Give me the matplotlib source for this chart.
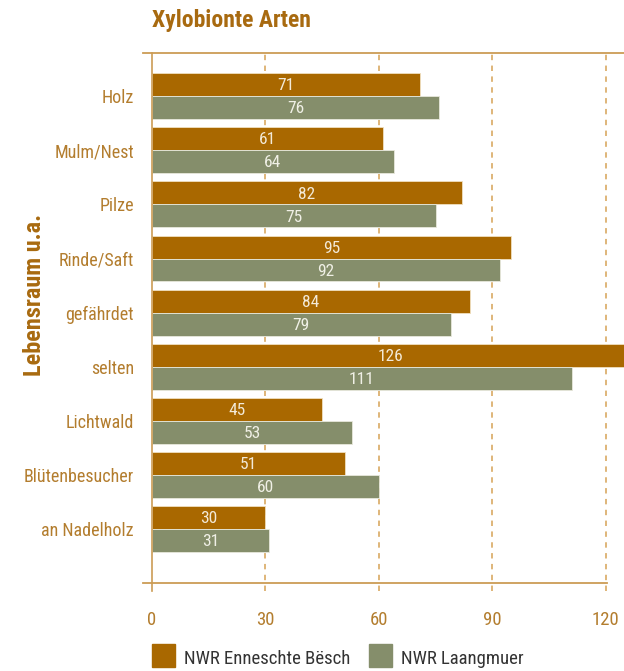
import matplotlib
matplotlib.use("Agg")
import matplotlib.pyplot as plt
import numpy as np

categories = ["Holz", "Mulm/Nest", "Pilze", "Rinde/Saft", "gefährdet", "selten",
              "Lichtwald", "Blütenbesucher", "an Nadelholz"]
enneschte = [71, 61, 82, 95, 84, 126, 45, 51, 30]
laangmuer = [76, 64, 75, 92, 79, 111, 53, 60, 31]
series_names = ["NWR Enneschte Bësch", "NWR Laangmuer"]
xticks = [0, 30, 60, 90, 120]

FONT = ["Roboto Condensed", "DejaVu Sans"]
plt.rcParams["font.family"] = FONT

c_brown = "#a96800"
c_green = "#858e6b"
c_label = "#b37d2e"
c_title = "#a86a10"
c_grid = "#dcb06e"
c_spine = "#cc9c55"

W, H = 624, 671
fig = plt.figure(figsize=(W / 100, H / 100), dpi=100)
left, right, top, bottom = 152, 624, 53, 583
ax = fig.add_axes([left / W, 1 - bottom / H, (right - left) / W, (bottom - top) / H])

y = np.arange(len(categories))
bh = 0.425
ax.barh(y - bh / 2, enneschte, height=bh, color=c_brown, edgecolor="#f0e0c0",
        linewidth=0.6, zorder=2)
ax.barh(y + bh / 2, laangmuer, height=bh, color=c_green, edgecolor="#e8e8dc",
        linewidth=0.6, zorder=2)

for yi, v in zip(y, enneschte):
    ax.text(v / 2, yi - bh / 2 + 0.02, str(v), ha="center", va="center",
            color="#f3ead8", fontsize=12.5, zorder=3)
for yi, v in zip(y, laangmuer):
    ax.text(v / 2, yi + bh / 2 + 0.02, str(v), ha="center", va="center",
            color="#f0f0e6", fontsize=12.5, zorder=3)

ax.set_xlim(0, (right - left) / 3.78)
ax.set_ylim(len(categories), -0.8)

for s in ["top", "bottom", "right", "left"]:
    ax.spines[s].set_visible(False)

# frame lines
ax.plot([-0.019, 1.0], [1, 1], transform=ax.transAxes, color=c_spine, lw=1.3,
        clip_on=False, zorder=4)
ax.plot([-0.019, 0.964], [0, 0], transform=ax.transAxes, color=c_spine, lw=1.3,
        clip_on=False, zorder=4)
ax.plot([0, 0], [len(categories) + 0.14, -0.8], color=c_spine, lw=1.2,
        clip_on=False, zorder=4)

# dashed grid lines
for xt in xticks[1:]:
    ax.plot([xt, xt], [len(categories) + 0.14, -0.8], color=c_grid, lw=1.3,
            ls=(0, (3, 3)), clip_on=False, zorder=1)

ax.set_xticks(xticks)
ax.set_xticklabels([str(t) for t in xticks])
ax.tick_params(axis="x", length=0, pad=20, labelsize=13.5, labelcolor=c_label)
ax.set_yticks(y)
ax.set_yticklabels(categories)
ax.tick_params(axis="y", length=0, pad=13, labelsize=13, labelcolor=c_label)

fig.text(152 / W, 1 - 21 / H, "Xylobionte Arten", ha="left", va="center",
         fontsize=17, fontweight="bold", color=c_title)
fig.text(35 / W, 1 - 295 / H, "Lebensraum u.a.", ha="center", va="center",
         rotation=90, fontsize=17.5, fontweight="bold", color=c_title)

# legend
for xs, col, name in [(152, c_brown, series_names[0]), (369, c_green, series_names[1])]:
    fig.patches.append(plt.Rectangle((xs / W, 1 - 667 / H), 23 / W, 23 / H,
                                     transform=fig.transFigure, color=col))
    fig.text((xs + 32) / W, 1 - 659 / H, name, ha="left", va="center",
             fontsize=13.5, color="#333333")

fig.savefig("out.png", dpi=100)
